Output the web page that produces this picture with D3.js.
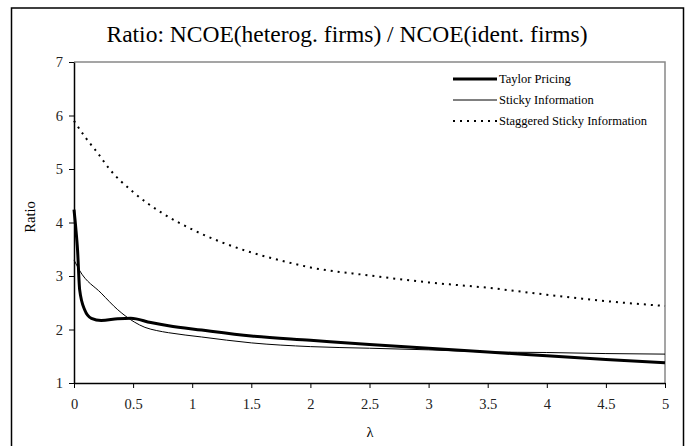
<!DOCTYPE html>
<html>
<head>
<meta charset="utf-8">
<script src="https://cdn.jsdelivr.net/npm/d3@7"></script>
<style>
  body { margin: 0; background: #fff; }
</style>
</head>
<body>
<svg id="chart" width="691" height="446"></svg>
<script>
// valori
const taylorLambda = [0, 0.015, 0.03, 0.048, 0.09, 0.147, 0.23, 0.37, 0.48, 0.65, 0.8, 1.08, 1.5, 2, 2.5, 3, 3.5, 4, 4.5, 5];
const taylorRatio  = [4.24, 3.9, 3.49, 2.74, 2.37, 2.21, 2.17, 2.2, 2.21, 2.13, 2.07, 1.99, 1.88, 1.8, 1.72, 1.65, 1.58, 1.51, 1.44, 1.38];

const stickyLambda = [0, 0.048, 0.23, 0.37, 0.51, 0.6, 0.7, 0.8, 1.08, 1.5, 2, 2.5, 3, 3.5, 4, 4.5, 5];
const stickyRatio  = [3.3, 3.1, 2.68, 2.37, 2.14, 2.04, 1.98, 1.94, 1.86, 1.75, 1.68, 1.65, 1.62, 1.58, 1.57, 1.55, 1.54];

const staggLambda = [0, 0.1, 0.2, 0.3, 0.5, 0.75, 1, 1.25, 1.5, 1.75, 2, 2.5, 3, 3.5, 4, 4.5, 5];
const staggRatio  = [5.9, 5.58, 5.3, 5.0, 4.57, 4.17, 3.87, 3.63, 3.44, 3.29, 3.16, 3.01, 2.88, 2.78, 2.65, 2.53, 2.44];

const seriesNames = ["Taylor Pricing", "Sticky Information", "Staggered Sticky Information"];
const xTicks = [0, 0.5, 1, 1.5, 2, 2.5, 3, 3.5, 4, 4.5, 5];
const yTicks = [1, 2, 3, 4, 5, 6, 7];

const FONT = "'Liberation Serif', 'Times New Roman', Times, serif";

const svg = d3.select("#chart").style("font-family", FONT);

//cornice esterna
svg.append("rect")
  .attr("x", 11.5).attr("y", 8)
  .attr("width", 672).attr("height", 460)
  .attr("fill", "none")
  .attr("stroke", "#000")
  .attr("stroke-width", 1.5);

const plotL = 74, plotR = 665, plotT = 62, plotB = 383;
const x = d3.scaleLinear().domain([0, 5]).range([plotL, plotR]);
const y = d3.scaleLinear().domain([1, 7]).range([plotB, plotT]);

// bordo area grafico (grigio sopra e a destra)
svg.append("path")
  .attr("d", `M${plotL},${plotT}H${plotR}V${plotB}`)
  .attr("fill", "none")
  .attr("stroke", "#888")
  .attr("stroke-width", 1.5);

const xAxis = svg.append("g")
  .attr("transform", `translate(0,${plotB})`)
  .call(d3.axisBottom(x).tickValues(xTicks).tickSize(5).tickSizeOuter(0).tickFormat(d3.format("")));

const yAxis = svg.append("g")
  .attr("transform", `translate(${plotL},0)`)
  .call(d3.axisLeft(y).tickValues(yTicks).tickSize(5).tickSizeOuter(0).tickFormat(d3.format("d")));

[xAxis, yAxis].forEach(a => {
  a.attr("font-family", FONT).attr("font-size", 14.5);
  a.select(".domain").attr("stroke", "#000").attr("stroke-width", 1.5);
  a.selectAll(".tick line").attr("stroke", "#000");
  a.selectAll(".tick text").style("font-family", FONT).attr("fill", "#222");
});
xAxis.selectAll(".tick text").attr("dy", "1.25em");
yAxis.selectAll(".tick text").attr("x", -11);

const line = d3.line()
  .x(d => x(d[0]))
  .y(d => y(d[1]))
  .curve(d3.curveMonotoneX);

const series = [
  { name: seriesNames[0], pts: d3.zip(taylorLambda, taylorRatio), width: 3, dash: null },
  { name: seriesNames[1], pts: d3.zip(stickyLambda, stickyRatio), width: 1, dash: null },
  { name: seriesNames[2], pts: d3.zip(staggLambda, staggRatio), width: 2, dash: "2,5" }
];

series.forEach(s => {
  svg.append("path")
    .attr("d", line(s.pts))
    .attr("fill", "none")
    .attr("stroke", "#000")
    .attr("stroke-width", s.width)
    .attr("stroke-dasharray", s.dash);
});

// legenda
const legend = svg.append("g").attr("transform", "translate(453,79)");
series.forEach((s, i) => {
  const g = legend.append("g").attr("transform", `translate(0,${i * 21})`);
  g.append("line")
    .attr("x1", 0).attr("x2", 44)
    .attr("stroke", "#000")
    .attr("stroke-width", s.width)
    .attr("stroke-dasharray", s.dash);
  g.append("text")
    .attr("x", 46).attr("dy", "0.35em")
    .style("font-family", FONT)
    .attr("font-size", 12.5)
    .text(s.name);
});

// titoli
svg.append("text")
  .attr("x", 347).attr("y", 42)
  .attr("text-anchor", "middle")
  .style("font-family", FONT)
  .attr("font-size", 23.5)
  .text("Ratio: NCOE(heterog. firms) / NCOE(ident. firms)");

svg.append("text")
  .attr("x", 370).attr("y", 437)
  .attr("text-anchor", "middle")
  .style("font-family", FONT)
  .attr("font-size", 14.5)
  .text("λ");

svg.append("text")
  .attr("transform", "translate(35,217) rotate(-90)")
  .attr("text-anchor", "middle")
  .style("font-family", FONT)
  .attr("font-size", 14.5)
  .text("Ratio");
</script>
</body>
</html>
